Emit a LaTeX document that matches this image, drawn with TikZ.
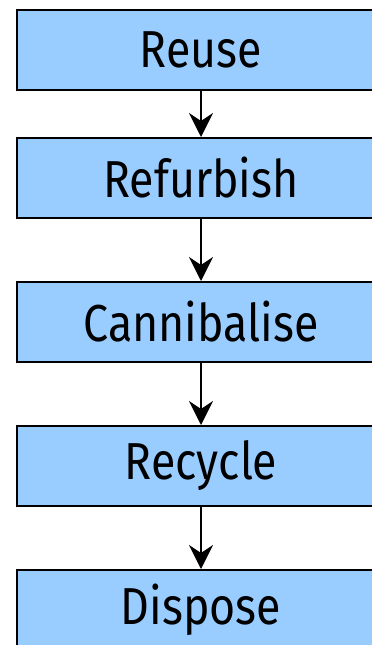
\documentclass[tikz,border=0pt]{standalone}
\usepackage{fontspec}
\setmainfont{Fira Sans}[FakeStretch=0.86]
\usetikzlibrary{arrows.meta}
\begin{document}
\begin{tikzpicture}[x=1pt,y=-1pt,
  stepbox/.style={draw=black,line width=1.6pt,fill=boxblue,minimum width=368pt,minimum height=80pt,inner sep=0pt,anchor=north,font=\fontsize{52}{60}\selectfont},
  flow/.style={line width=2.2pt,-{Stealth[length=24pt,width=24pt,inset=8pt]}}]
\definecolor{boxblue}{HTML}{99CCFF}
\useasboundingbox (0,0) rectangle (372,645);
\node[stepbox] (a) at (201,9) {Reuse};
\node[stepbox] (b) at (201,137) {Refurbish};
\node[stepbox] (c) at (201,281) {Cannibalise};
\node[stepbox] (d) at (201,425) {Recycle};
\node[stepbox] (e) at (201,569) {Dispose};
\draw[flow] (a) -- (b);
\draw[flow] (b) -- (c);
\draw[flow] (c) -- (d);
\draw[flow] (d) -- (e);
\end{tikzpicture}
\end{document}
